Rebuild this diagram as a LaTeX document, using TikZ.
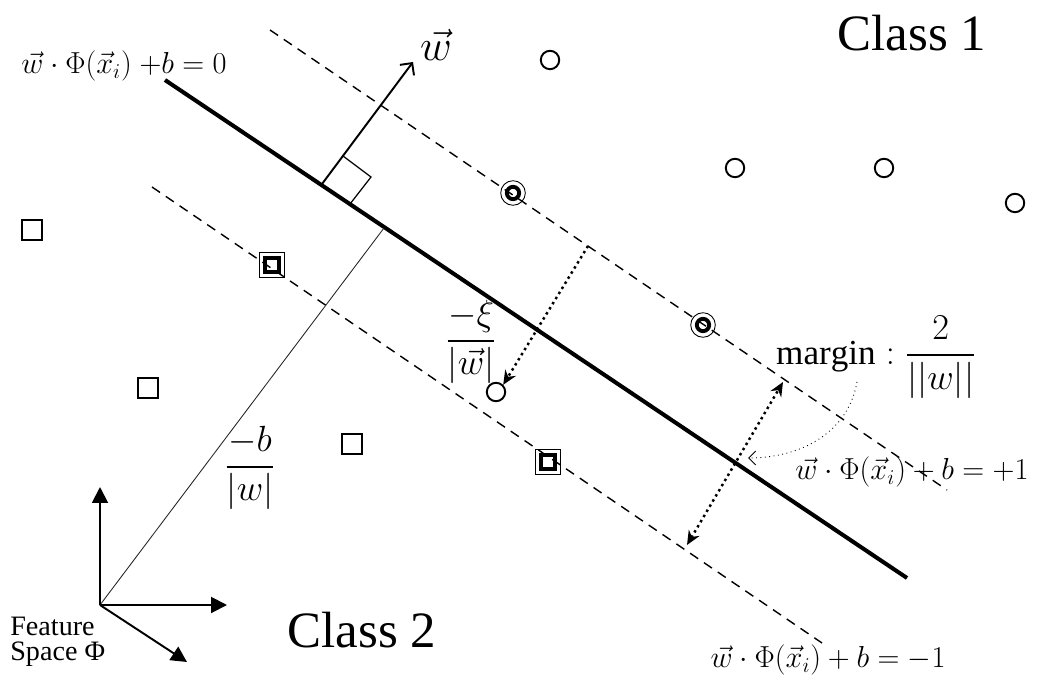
\documentclass[tikz,border=0pt]{standalone}
\usepackage{amsmath}
\usepackage{fontspec}
\setmainfont{Liberation Serif}
\usetikzlibrary{calc}
\usetikzlibrary{arrows.meta}

\begin{document}
\begin{tikzpicture}[x=0.02cm,y=-0.02cm,
    hyper/.style={line width=2.3pt},
    supp/.style={line width=0.8pt,dash pattern=on 5.5pt off 4pt},
    cls1/.style={circle,draw,line width=1.1pt,minimum size=10.5pt,inner sep=0pt},
    cls2/.style={rectangle,draw,line width=1.1pt,minimum size=11pt,inner sep=0pt},
    svout/.style={draw,line width=0.5pt,minimum size=14pt,inner sep=0pt},
    svin/.style={draw,line width=2.2pt,minimum size=8pt,inner sep=0pt},
    dotarrow/.style={line width=1.4pt,dotted,-{Stealth[length=8pt,width=7pt]}},
    axis/.style={line width=1.1pt,-{Triangle[length=9pt,width=9pt]}},
    eqlab/.style={font=\fontsize{17.5}{20}\selectfont},
    fraclab/.style={font=\fontsize{20}{24}\selectfont},
    classlab/.style={font=\fontsize{29}{34}\selectfont}]
    \useasboundingbox (0,0) rectangle (1043,678);

    \coordinate (h0) at (165,80);
    \coordinate (h1) at (907,578);
    \coordinate (p0) at (270,30);
    \coordinate (p1) at (947,490);
    \coordinate (m0) at (152,187);
    \coordinate (m1) at (822,643);

    \draw[hyper] (h0)--(h1);
    \draw[supp] (p0)--(p1);
    \draw[supp] (m0)--(m1);

    \foreach \x/\y [count=\i] in {550/60,735/168,884/168,1015/203,496/392}{
        \node[cls1] (c\i) at (\x,\y) {};
    }
    \foreach \x/\y [count=\i] in {32/230,148/388,352/444}{
        \node[cls2] (s\i) at (\x,\y) {};
    }
    \foreach \x/\y [count=\i] in {513/193,703/325}{
        \node[svout,circle] (cso\i) at (\x,\y) {};
        \node[svin,circle,minimum size=7pt] (csi\i) at (\x,\y) {};
    }
    \foreach \x/\y [count=\i] in {272/265,548/462}{
        \node[svout,rectangle] (sso\i) at (\x,\y) {};
        \node[svin,rectangle] (ssi\i) at (\x,\y) {};
    }

    \coordinate (wf) at (322,184);
    \coordinate (wt) at (413,62);
    \draw[line width=1.1pt,-{Straight Barb[length=5pt,width=10pt]}] (wf)--(wt);
    \draw[line width=0.7pt] (343,156)--(371,177)--(350,204);

    \coordinate (o) at (100,605);
    \coordinate (bf) at (384,228);
    \draw[line width=0.5pt,black!85] (o)--(bf);
    \coordinate (ax) at (227,605);
    \coordinate (ay) at (100,487);
    \coordinate (az) at (187,662);
    \draw[axis] (o)--(ax);
    \draw[axis] (o)--(ay);
    \draw[axis] (o)--(az);

    \coordinate (xa) at (588,246);
    \draw[dotarrow] (xa)--(c5.north east);
    \coordinate (ga) at (687,545);
    \coordinate (gb) at (783,382);
    \draw[dotarrow,{Stealth[length=8pt,width=7pt]}-{Stealth[length=8pt,width=7pt]}] (ga)--(gb);
    \coordinate (ca) at (857,382);
    \coordinate (cb) at (748,458);
    \draw[line width=0.5pt,dotted,-{Straight Barb[length=4pt,width=8pt]}] (ca) to[out=-100,in=0] (cb);

    \node[eqlab] (e0) at (124,66) {$\vec w\cdot\Phi(\vec x_i)\ {+b}=0$};
    \node[eqlab] (ep) at (912,472) {$\vec w\cdot\Phi(\vec x_i)+b=+1$};
    \node[eqlab] (em) at (828,660) {$\vec w\cdot\Phi(\vec x_i)+b=-1$};
    \node[font=\fontsize{24}{28}\selectfont] (wl) at (436,45) {$\vec w$};
    \node[classlab] (k1) at (912,33) {Class 1};
    \node[classlab] (k2) at (362,630) {Class 2};
    \node[fraclab] (xi) at (471,342) {$\dfrac{-\xi}{|\vec w|}$};
    \node[fraclab] (bl) at (250,468) {$\dfrac{-b}{|w|}$};
    \node[fraclab,anchor=west] (mg) at (770,357) {$\mathrm{margin}:\dfrac{2}{||w||}$};
    \node[anchor=west,align=left,font=\fontsize{16}{14}\selectfont,inner sep=0pt] (fs) at (10,642) {Feature\\Space Φ};
\end{tikzpicture}
\end{document}
